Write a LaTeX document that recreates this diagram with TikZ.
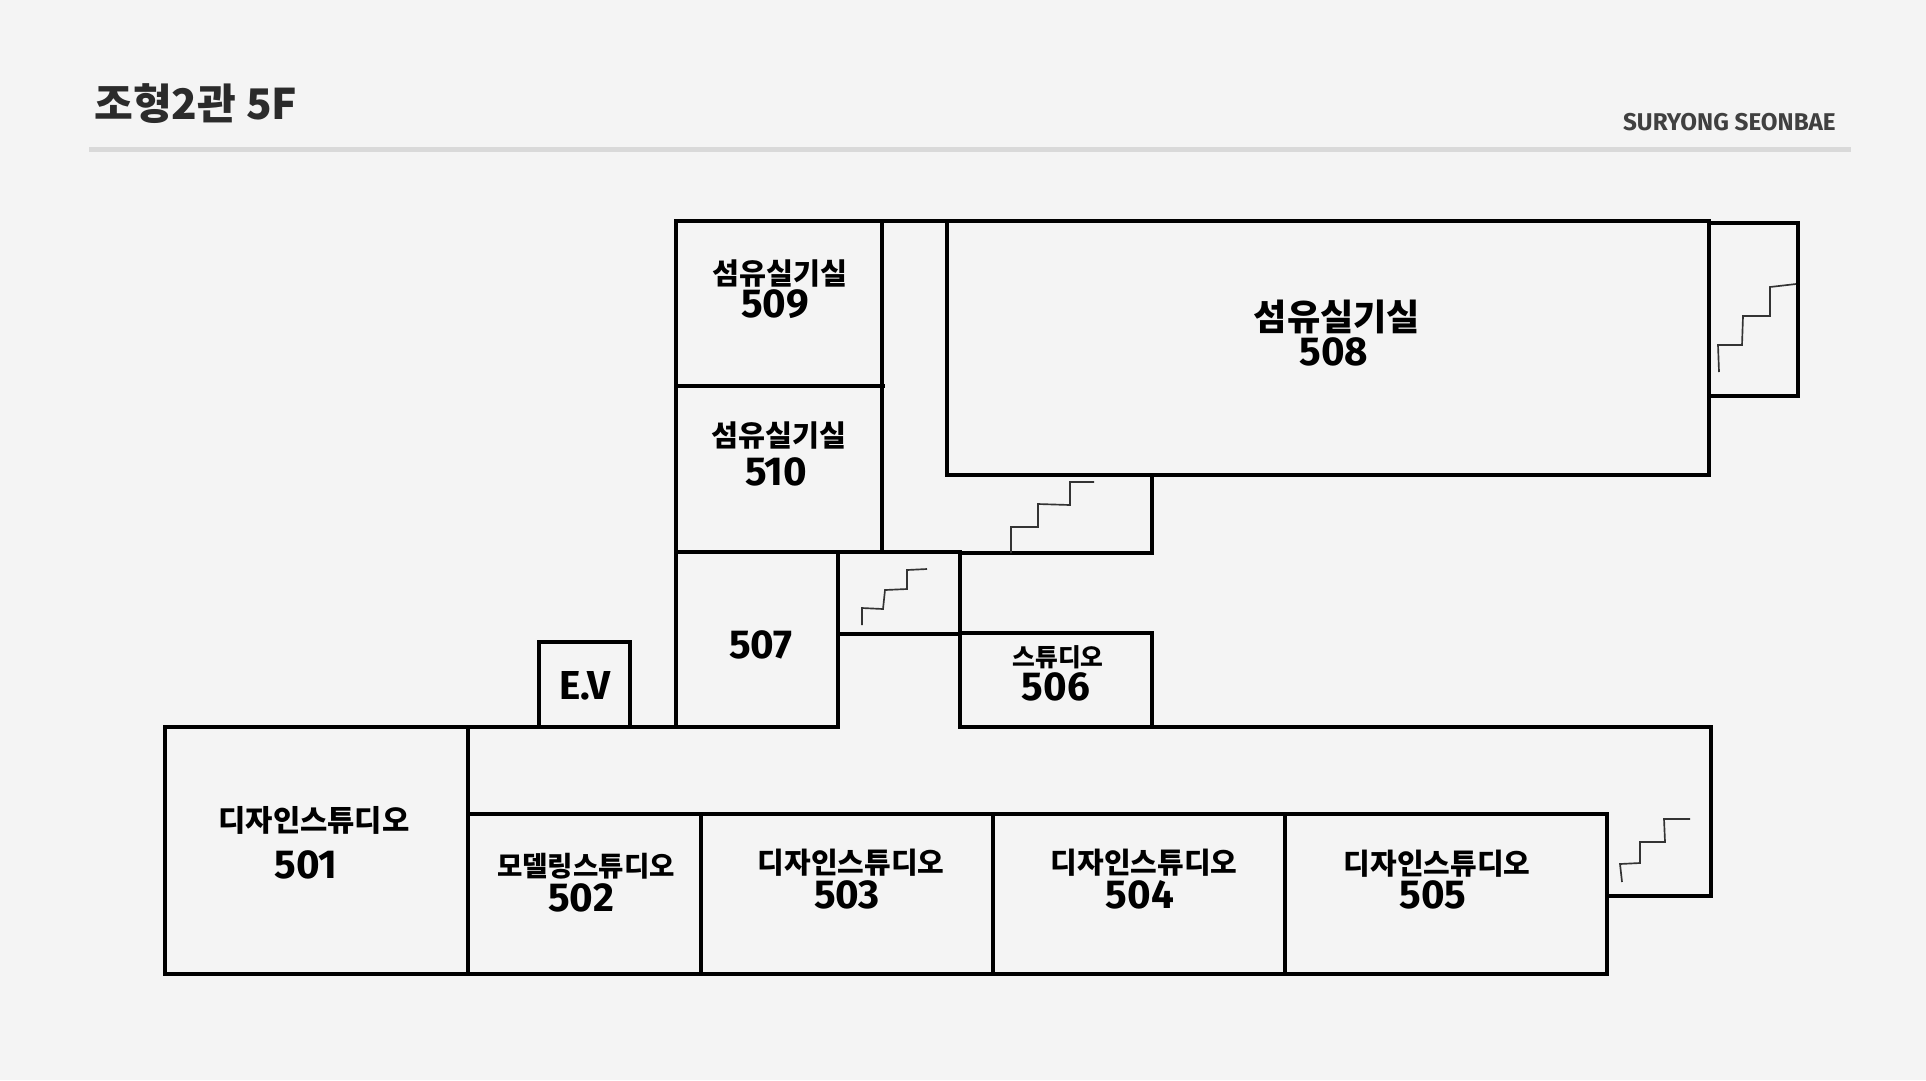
\documentclass[tikz,border=0pt]{standalone}
\usepackage{xcolor}
\usepackage{fontspec}
\newfontfamily\krfont{Noto Sans CJK KR}
\newfontfamily\numfont{Fira Sans}
\definecolor{cBack}{HTML}{F4F4F4}
\definecolor{cRule}{HTML}{D9D9D9}
\definecolor{cTitle}{HTML}{2B2B2B}
\definecolor{cBrand}{HTML}{404040}
\definecolor{cStair}{HTML}{333333}
\tikzset{
  wall/.style={draw=black, line width=1.8pt, line cap=rect},
  wallthick/.style={wall, line width=2.4pt},
  stairline/.style={draw=cStair, line width=0.95pt},
  headrule/.style={draw=cRule, line width=2.7pt},
  roomname/.style={
    inner sep=0pt,
    text=black,
    font=\krfont\bfseries\fontsize{#1}{#1}\selectfont
  },
  roomno/.style={
    inner sep=0pt,
    text=black,
    font=\numfont\bfseries\fontsize{23pt}{23pt}\selectfont
  }
}

\begin{document}
\begin{tikzpicture}[x=0.02cm, y=-0.02cm]
  \useasboundingbox (0,0) rectangle (1926,1080);
  \fill[cBack] (0,0) rectangle (1926,1080);

  % header
  \node[anchor=west, inner sep=0pt, text=cTitle, font=\krfont\bfseries\fontsize{24pt}{24pt}\selectfont] (title) at (94,104) {조형2관 5F};
  \node[anchor=east, inner sep=0pt, text=cBrand, font=\numfont\bfseries\fontsize{13.8pt}{13.8pt}\selectfont] (brand) at (1836,122) {SURYONG SEONBAE};
  \draw[headrule] (89,149.5) -- (1851,149.5);

  % upper block
  \draw[wallthick] (676,221) -- (947,221);
  \draw[wall] (947,221) -- (1709,221);
  \draw[wallthick] (676,221) -- (676,552);
  \draw[wallthick] (676,386) -- (883,386);
  \draw[wall] (882,221) -- (882,552);
  \draw[wallthick] (676,552) -- (882,552);
  \draw[wall] (947,221) -- (947,475) -- (1709,475) -- (1709,221);
  \draw[wall] (1709,223) rectangle (1798,396);
  \draw[wall] (1152,475) -- (1152,553) -- (960,553);

  % middle block
  \draw[wall] (676,552) -- (676,727);
  \draw[wall] (676,727) -- (838,727) -- (838,552);
  \draw[wall] (838,552) -- (960,552) -- (960,634) -- (838,634);
  \draw[wallthick] (960,633) -- (1152,633);
  \draw[wall] (960,633) -- (960,727) -- (1152,727) -- (1152,633);
  \draw[wallthick] (539,727) -- (539,642) -- (630,642) -- (630,727);

  % lower block
  \draw[wallthick] (165,727) -- (165,974) -- (468,974);
  \draw[wallthick] (468,814) -- (468,974);
  \draw[wall] (468,727) -- (468,814);
  \draw[wallthick] (165,727) -- (676,727);
  \draw[wallthick] (1152,727) -- (1711,727) -- (1711,896);
  \draw[wall] (1711,896) -- (1607,896);
  \draw[wall] (468,814) -- (1607,814) -- (1607,974);
  \draw[wallthick] (468,974) -- (1607,974);
  \draw[wall] (701,814) -- (701,974);
  \draw[wall] (993,814) -- (993,974);
  \draw[wall] (1285,814) -- (1285,974);

  % stairs
  \draw[stairline] (1719,372) -- (1718,345) -- (1742,345) -- (1743,316) -- (1770,316) -- (1770,287) -- (1796,284);
  \draw[stairline] (1011,553) -- (1011,527) -- (1038,527) -- (1038,504) -- (1070,505) -- (1070,482) -- (1094,482);
  \draw[stairline] (862,625) -- (862,608) -- (883,609) -- (885,590) -- (907,589) -- (907,570) -- (927,569);
  \draw[stairline] (1622,882) -- (1620,864) -- (1640,863) -- (1640,842) -- (1665,842) -- (1664,819) -- (1690,819);

  % room labels
  \node[roomname=16.7pt] (name509) at (780,273) {섬유실기실};
  \node[roomno] (no509) at (775,304) {509};
  \node[roomname=16.7pt] (name510) at (779,435) {섬유실기실};
  \node[roomno] (no510) at (776,472) {510};
  \node[roomname=20.6pt] (name508) at (1337,317) {섬유실기실};
  \node[roomno] (no508) at (1334,352) {508};
  \node[roomno] (no507) at (761,645) {507};
  \node[roomno] (ev) at (585,686) {E.V};
  \node[roomname=14.1pt] (name506) at (1058,657) {스튜디오};
  \node[roomno] (no506) at (1056,687) {506};
  \node[roomname=16.9pt] (name501) at (314,820) {디자인스튜디오};
  \node[roomno] (no501) at (306,865) {501};
  \node[roomname=15.7pt] (name502) at (586,866) {모델링스튜디오};
  \node[roomno] (no502) at (581,898) {502};
  \node[roomname=16.5pt] (name503) at (851,863) {디자인스튜디오};
  \node[roomno] (no503) at (847,895) {503};
  \node[roomname=16.5pt] (name504) at (1144,863) {디자인스튜디오};
  \node[roomno] (no504) at (1140,895) {504};
  \node[roomname=16.5pt] (name505) at (1437,864) {디자인스튜디오};
  \node[roomno] (no505) at (1433,895) {505};
\end{tikzpicture}
\end{document}
